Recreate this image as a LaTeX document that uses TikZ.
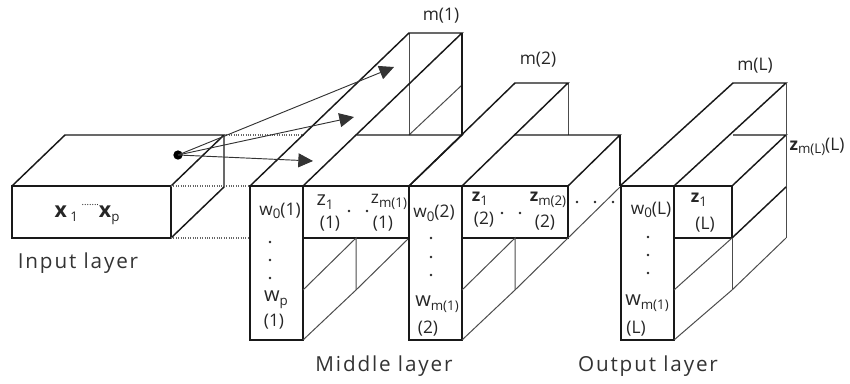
\documentclass[tikz,border=0pt]{standalone}
\usepackage{fontspec}
\setmainfont{Open Sans}
\usetikzlibrary{arrows.meta}
\newcommand{\lowtxt}[1]{\raisebox{-0.4ex}{\fontsize{10}{12}\selectfont #1}}
\tikzset{
  edge/.style={line width=1.1pt, color=black!90},
  thinedge/.style={line width=0.75pt, color=black!70},
  link/.style={line width=0.7pt, color=black!80, -{Triangle[length=11pt,width=10.5pt]}},
  gap/.style={line width=0.8pt, densely dotted, color=black!60},
  lbl/.style={inner sep=0pt, font=\fontsize{13}{15}\selectfont, color=black!85},
  caption/.style={inner sep=0pt, font=\fontsize{15.5}{17}\selectfont\addfontfeatures{LetterSpace=9}, color=black!80},
  spot/.style={circle, fill=black!85, inner sep=0pt, minimum size=2.2pt}
}
\begin{document}
\begin{tikzpicture}[x=0.75pt, y=-0.75pt]
  \useasboundingbox (0,0) rectangle (850,383);

  % input block
  \draw[edge] (12,186) rectangle (171,238);
  \draw[edge] (12,186) -- (65,135) -- (224,135) -- (171,186);
  \draw[edge] (224,135) -- (224,187) -- (171,238);
  \draw[gap] (224,135) -- (305,135);
  \draw[gap] (171,186) -- (250,186);
  \draw[gap] (171,238) -- (250,238);

  % first hidden block
  \draw[thinedge] (409,33) -- (409,135);
  \draw[thinedge] (409,135) -- (462,85);
  \draw[edge] (462,33) -- (462,135);
  \draw[edge] (250,186) -- (409,33) -- (462,33) -- (303,186);
  \draw[edge] (357,135) -- (462,135) -- (409,186);
  \draw[edge] (250,186) rectangle (303,340);
  \draw[edge] (303,186) -- (409,186);
  \draw[edge] (303,238) -- (409,238);
  \draw[thinedge] (303,290) -- (356,238) -- (356,290);
  \draw[thinedge] (303,340) -- (356,290) -- (409,238);

  % second hidden block
  \draw[thinedge] (568,83) -- (568,135);
  \draw[edge] (409,186) -- (515,83) -- (568,83) -- (462,186);
  \draw[edge] (515,135) -- (620,135) -- (568,186);
  \draw[edge] (409,186) rectangle (462,340);
  \draw[edge] (462,186) rectangle (568,238);
  \draw[edge] (620,135) -- (620,186);
  \draw[thinedge] (462,290) -- (515,238) -- (515,290);
  \draw[thinedge] (462,340) -- (515,290) -- (568,238);
  \draw[thinedge] (568,238) -- (620,187);

  % output block
  \draw[edge] (620,186) -- (733,83) -- (786,83) -- (674,186);
  \draw[edge] (733,135) -- (786,135) -- (732,186);
  \draw[thinedge] (786,83) -- (786,238);
  \draw[edge] (621,186) rectangle (674,340);
  \draw[edge] (674,186) rectangle (732,238);
  \draw[edge] (732,238) -- (786,187);
  \draw[thinedge] (732,238) -- (732,290);
  \draw[thinedge] (674,290) -- (732,238);
  \draw[thinedge] (674,340) -- (732,290) -- (786,238);

  % arrows out of the input unit
  \node[circle, fill=black, inner sep=0pt, minimum size=7pt] (unit) at (178,155) {};
  \coordinate (headA) at (394,67);
  \coordinate (headB) at (354,117);
  \coordinate (headC) at (313,161);
  \draw[link] (unit.center) -- (headA);
  \draw[link] (unit.center) -- (headB);
  \draw[link] (unit.center) -- (headC);

  % input texts
  \node[lbl] (X) at (87,215) {\fontsize{16}{18}\selectfont\textbf{x}\,\lowtxt{1}\,\raisebox{1ex}{\fontsize{7}{7}\selectfont.......}\textbf{x}\lowtxt{p}};
  \node[caption] (I) at (78,263) {Input layer};
  \node[caption] (M) at (384,366) {Middle layer};
  \node[caption] (O) at (648,366) {Output layer};

  % sizes on top
  \node[lbl] (M1) at (441,16) {m(1)};
  \node[lbl] (M2) at (538,60) {m(2)};
  \node[lbl] (ML) at (755,66) {m(L)};
  \node[lbl] (ZL) at (817,147) {\textbf{z}\lowtxt{m(L)}(L)};

  % first hidden texts
  \node[lbl] (W01) at (280,211) {w\lowtxt{0}(1)};
  \node[lbl] (WP1) at (276,300) {\fontsize{15}{17}\selectfont w\lowtxt{p}};
  \node[lbl] (WB1) at (274,322) {(1)};
  \node[lbl] (Z11) at (325,202) {\fontsize{15}{17}\selectfont z\lowtxt{1}};
  \node[lbl] (Z12) at (330,224) {(1)};
  \node[lbl] (ZM1) at (389,202) {z\lowtxt{m(1)}};
  \node[lbl] (ZM2) at (383,224) {(1)};

  % second hidden texts
  \node[lbl] (W02) at (434,213) {w\lowtxt{0}(2)};
  \node[lbl] (WP2) at (437,304) {\fontsize{15}{17}\selectfont w\lowtxt{m(1)}};
  \node[lbl] (WB2) at (428,329) {(2)};
  \node[lbl] (Z21) at (480,199) {\textbf{z}\lowtxt{1}};
  \node[lbl] (Z22) at (484,220) {(2)};
  \node[lbl] (ZN1) at (548,200) {\textbf{z}\lowtxt{m(2)}};
  \node[lbl] (ZN2) at (545,223) {(2)};

  % output texts
  \node[lbl] (W0L) at (651,210) {w\lowtxt{0}(L)};
  \node[lbl] (WPL) at (647,303) {\fontsize{15}{17}\selectfont w\lowtxt{m(1)}};
  \node[lbl] (WBL) at (636,329) {(L)};
  \node[lbl] (ZO1) at (699,200) {\textbf{z}\lowtxt{1}};
  \node[lbl] (ZO2) at (705,225) {(L)};

  % dots
  \foreach \px/\py in {270/242, 270/260, 270/278, 431/238, 431/257, 431/275, 648/237, 648/255, 648/273, 349/211, 367/211, 502/213, 520/213, 577/202, 595/202, 613/202}
    \node[spot] at (\px,\py) {};
\end{tikzpicture}
\end{document}
